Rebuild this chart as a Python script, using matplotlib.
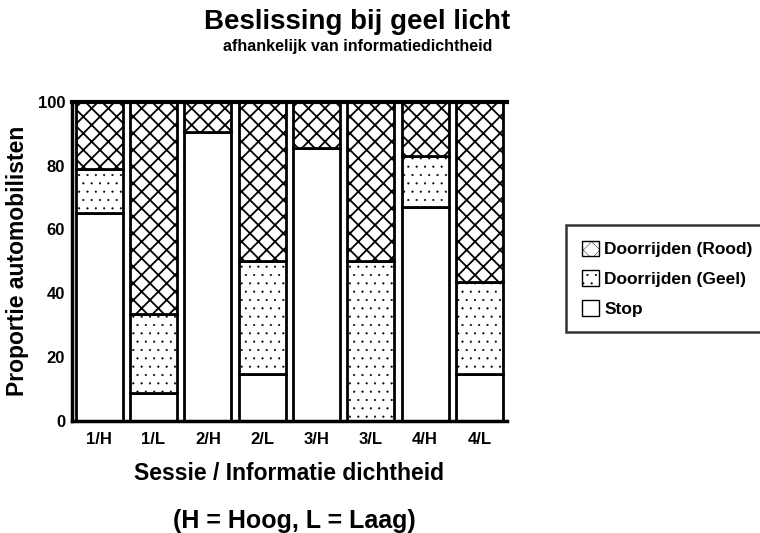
import matplotlib
matplotlib.use("Agg")
import matplotlib.pyplot as plt
import numpy as np
from matplotlib.patches import Patch

categories = ["1/H", "1/L", "2/H", "2/L", "3/H", "3/L", "4/H", "4/L"]
stop = [65, 8.5, 90.5, 14.5, 85.5, 0, 67, 14.5]
geel = [14, 25, 0, 35.5, 0, 50, 16, 29]
rood = [21, 66.5, 9.5, 50, 14.5, 50, 17, 56.5]

plt.rcParams['font.family'] = ['Liberation Sans', 'DejaVu Sans']
plt.rcParams['font.weight'] = 'bold'

fig = plt.figure(figsize=(7.6, 5.33), dpi=100)
ax = fig.add_axes([0.0947, 0.211, 0.572, 0.598])

x = np.arange(len(categories))
w = 0.87
lw = 2.0
b_stop = np.array(stop)
ax.bar(x, stop, w, color='white', edgecolor='black', linewidth=lw, zorder=2)
plt.rcParams['hatch.linewidth'] = 0.3
ax.bar(x, geel, w, bottom=b_stop, color='white', edgecolor='black', linewidth=lw, hatch='..', zorder=2)
plt.rcParams['hatch.linewidth'] = 1.3
ax.bar(x, rood, w, bottom=b_stop + np.array(geel), color='white', edgecolor='black', linewidth=lw, hatch='xx', zorder=2)

ax.set_xlim(-0.5, len(categories) - 0.5)
ax.set_ylim(0, 100)
ax.set_yticks([0, 20, 40, 60, 80, 100])
ax.set_xticks(x)
ax.set_xticklabels(categories, fontsize=12, fontweight='bold')
for t in ax.get_yticklabels():
    t.set_fontsize(12)
    t.set_fontweight('bold')
ax.tick_params(axis='y', length=0, pad=5)
ax.tick_params(axis='x', length=0, pad=8)
for s in ['left', 'bottom']:
    ax.spines[s].set_linewidth(2.5)
ax.spines['top'].set_linewidth(3.0)
ax.spines['right'].set_visible(False)

ax.set_ylabel("Proportie automobilisten", fontsize=16.5, fontweight='bold')
ax.yaxis.set_label_coords(-0.099, 0.5)
ax.set_xlabel("Sessie / Informatie dichtheid", fontsize=16.5, fontweight='bold')
ax.xaxis.set_label_coords(0.5, -0.13)

fig.text(0.47, 0.958, "Beslissing bij geel licht", ha='center', va='center', fontsize=20, fontweight='bold')
fig.text(0.47, 0.912, "afhankelijk van informatiedichtheid", ha='center', va='center', fontsize=11.5, fontweight='bold')
fig.text(0.387, 0.022, "(H = Hoog, L = Laag)", ha='center', va='center', fontsize=18, fontweight='bold')

hl = []
plt.rcParams['hatch.linewidth'] = 1.3
hl.append(Patch(facecolor='white', edgecolor='black', hatch='xx', label='Doorrijden (Rood)'))
plt.rcParams['hatch.linewidth'] = 0.3
hl.append(Patch(facecolor='white', edgecolor='black', hatch='..', label='Doorrijden (Geel)'))
hl.append(Patch(facecolor='white', edgecolor='black', label='Stop'))
leg = fig.legend(handles=hl, loc='center left', bbox_to_anchor=(0.745, 0.477),
                 fontsize=12.5, frameon=True, fancybox=False, edgecolor='black',
                 handlelength=1.0, handleheight=1.0, handletextpad=0.3, borderpad=0.9,
                 labelspacing=0.75, borderaxespad=0)
leg.get_frame().set_linewidth(1.8)
for t in leg.get_texts():
    t.set_fontweight('bold')

fig.savefig("out.png", dpi=100)
